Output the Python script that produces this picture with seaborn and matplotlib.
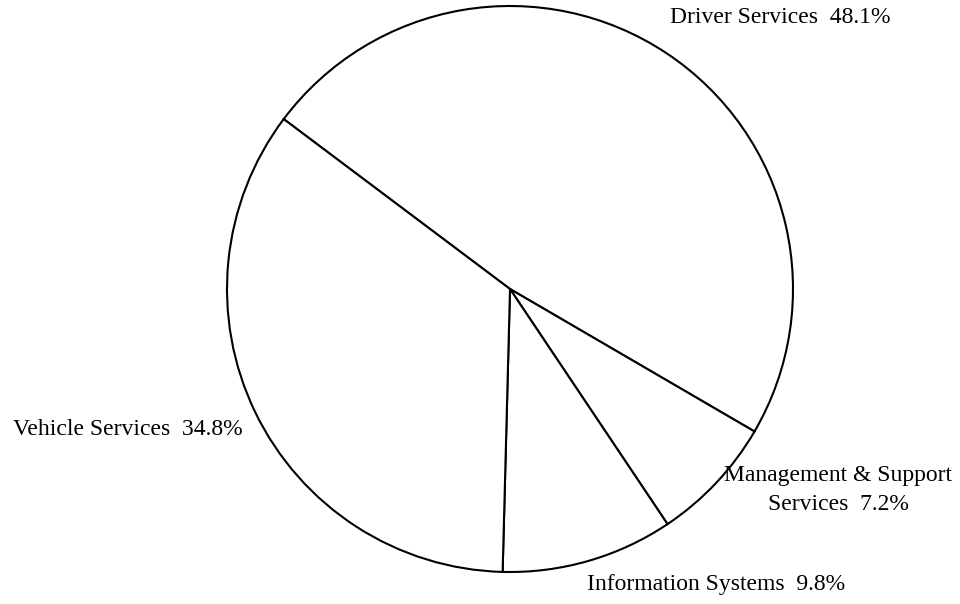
import matplotlib
matplotlib.use("Agg")
import matplotlib.pyplot as plt
import seaborn as sns

sns.set_theme(style="white")
plt.rcParams['font.family'] = ['Liberation Serif', 'DejaVu Serif']

# data
categories = ["Driver Services", "Management & Support\nServices", "Information Systems", "Vehicle Services"]
shares = [48.1, 7.2, 9.8, 34.8]

labels = [f"{c}  {v}%" for c, v in zip(categories, shares)]

fig = plt.figure(figsize=(9.6, 6.04), dpi=100)
ax = fig.add_axes([0, 0, 1, 1])

wedges, texts = ax.pie(
    shares,
    labels=labels,
    startangle=143.1,
    counterclock=False,
    colors=["white"] * len(shares),
    wedgeprops=dict(edgecolor="black", linewidth=1.5),
    labeldistance=1.1,
    textprops=dict(fontsize=17, color="black"),
)

# label placement (in units of the pie radius)
label_pos = [(0.565, 0.96, "left"), (0.756, -0.71, "left"),
             (0.272, -1.045, "left"), (-0.945, -0.495, "right")]
for t, (x, y, ha) in zip(texts, label_pos):
    t.set_position((x, y))
    t.set_ha(ha)
    t.set_va("center")
    t.set_multialignment("center")
    t.set_linespacing(1.45)

ax.set_xlim(-510 / 283, 450 / 283)
ax.set_ylim(-315 / 283, 289 / 283)
ax.set_aspect("equal")
ax.axis("off")

fig.savefig("out.png", dpi=100, facecolor="white")
